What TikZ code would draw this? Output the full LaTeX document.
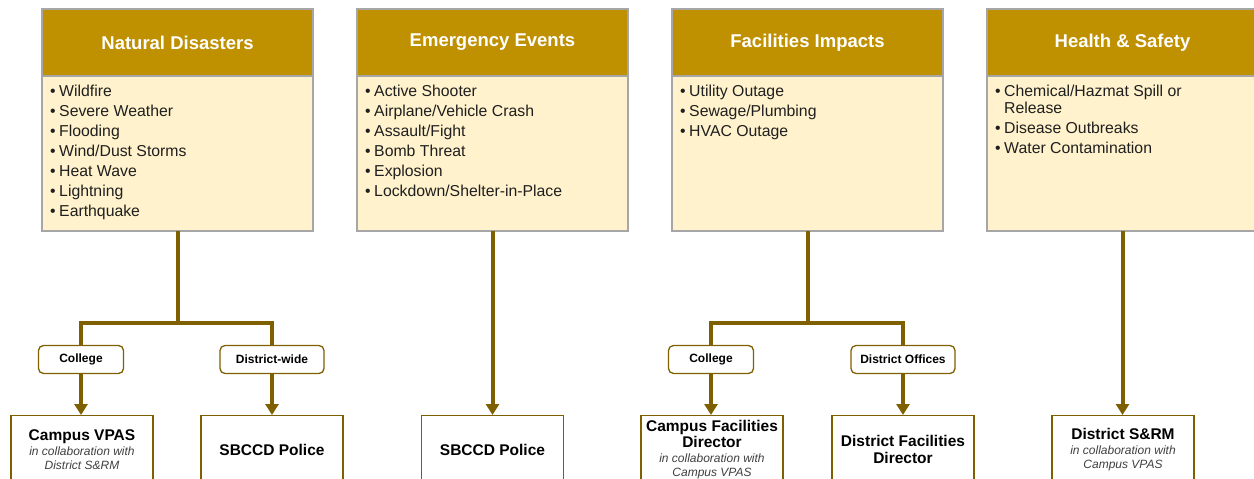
\documentclass[tikz,border=0pt]{standalone}
\usepackage{fontspec}
\setmainfont{Liberation Sans}
\usetikzlibrary{arrows.meta}
\definecolor{gold}{HTML}{BF9000}
\definecolor{cream}{HTML}{FFF2CC}
\definecolor{dbrown}{HTML}{7F6000}
\definecolor{grayb}{HTML}{A6A6A6}
\definecolor{itgray}{HTML}{404040}
\tikzset{
 head/.style={draw=grayb, line width=1.2pt, fill=gold, minimum width=271pt, minimum height=67pt, anchor=north west, inner sep=0pt, outer sep=0pt, text=white, font=\fontsize{18.5}{20}\selectfont\bfseries},
 body/.style={draw=grayb, line width=1.2pt, fill=cream, minimum width=271pt, minimum height=155pt, anchor=north west, inner sep=0pt, outer sep=0pt},
 items/.style={anchor=north west, align=left, inner sep=0pt, text=black!88, font=\fontsize{15.8}{20}\selectfont},
 pill/.style={draw=dbrown, line width=1.3pt, fill=white, rounded corners=5pt, minimum height=28pt, inner sep=0pt, font=\fontsize{12}{14}\selectfont\bfseries},
 dest/.style={draw=dbrown, line width=1.3pt, fill=white, minimum width=142pt, minimum height=68pt, anchor=north, inner sep=0pt, align=center, font=\fontsize{12}{14}\selectfont},
 conn/.style={draw=dbrown, line width=4pt},
 arr/.style={conn, -{Triangle[length=11pt,width=13pt]}},
}
\newcommand{\bt}[1]{{\fontsize{15.5}{17}\selectfont\bfseries #1}}
\newcommand{\itx}[1]{{\color{itgray}\itshape #1}}
\newcommand{\bul}{•\hspace{3.5pt}}
\begin{document}
\begin{tikzpicture}[x=1pt,y=-1pt]
\useasboundingbox (0,0) rectangle (1254,479);
\clip (0,0) rectangle (1254,479);
% category boxes
\node[head] (ndh) at (42,9) {Natural Disasters};
\node[body] (ndb) at (42,76) {};
\node[items] (ndl) at (50,85) {\bul Wildfire\\\bul Severe Weather\\\bul Flooding\\\bul Wind/Dust Storms\\\bul Heat Wave\\\bul Lightning\\\bul Earthquake};
\node[head] (eeh) at (357,9) {Emergency Events};
\node[body] (eeb) at (357,76) {};
\node[items] (eel) at (365,85) {\bul Active Shooter\\\bul Airplane/Vehicle Crash\\\bul Assault/Fight\\\bul Bomb Threat\\\bul Explosion\\\bul Lockdown/Shelter-in-Place};
\node[head] (fih) at (672,9) {Facilities Impacts};
\node[body] (fib) at (672,76) {};
\node[items] (fil) at (680,85) {\bul Utility Outage\\\bul Sewage/Plumbing\\\bul HVAC Outage};
\node[head] (hsh) at (987,9) {Health \& Safety};
\node[body] (hsb) at (987,76) {};
\node[items] (hsl) at (995,85) {\bul Chemical/Hazmat Spill or\\[-3pt]\phantom{\bul}Release\\\bul Disease Outbreaks\\\bul Water Contamination};
% pills
\node[pill, minimum width=85pt] (ndc) at (81,359.5) {College};
\node[pill, minimum width=104pt] (ndd) at (272,359.5) {District-wide};
\node[pill, minimum width=85pt] (fic) at (711,359.5) {College};
\node[pill, minimum width=104pt] (fid) at (903,359.5) {District Offices};
% destinations
\node[dest] (d1) at (82,415) {\bt{Campus VPAS}\\[1pt]\itx{in collaboration with}\\\itx{District S\&RM}};
\node[dest] (d2) at (272,415) {\bt{SBCCD Police}};
\node[dest] (d3) at (492.5,415) {\bt{SBCCD Police}};
\node[dest] (d4) at (712,415) {\bt{Campus Facilities}\\\bt{Director}\\[1pt]\itx{in collaboration with}\\\itx{Campus VPAS}};
\node[dest] (d5) at (903,415) {\bt{District Facilities}\\[3pt]\bt{Director}};
\node[dest] (d6) at (1123,415) {\bt{District S\&RM}\\[1pt]\itx{in collaboration with}\\\itx{Campus VPAS}};
% junctions
\path (ndb.south) ++(0,92) coordinate (ndj);
\path (fib.south) ++(0,92) coordinate (fij);
% connectors
\draw[conn] (ndb.south) -- (ndj) (ndc.north) |- (ndj) -| (ndd.north);
\draw[conn] (fib.south) -- (fij) (fic.north) |- (fij) -| (fid.north);
\draw[arr] (ndc.south) -- (ndc.south |- d1.north);
\draw[arr] (ndd.south) -- (ndd.south |- d2.north);
\draw[arr] (eeb.south) -- (eeb.south |- d3.north);
\draw[arr] (fic.south) -- (fic.south |- d4.north);
\draw[arr] (fid.south) -- (fid.south |- d5.north);
\draw[arr] (hsb.south) -- (hsb.south |- d6.north);
\end{tikzpicture}
\end{document}
